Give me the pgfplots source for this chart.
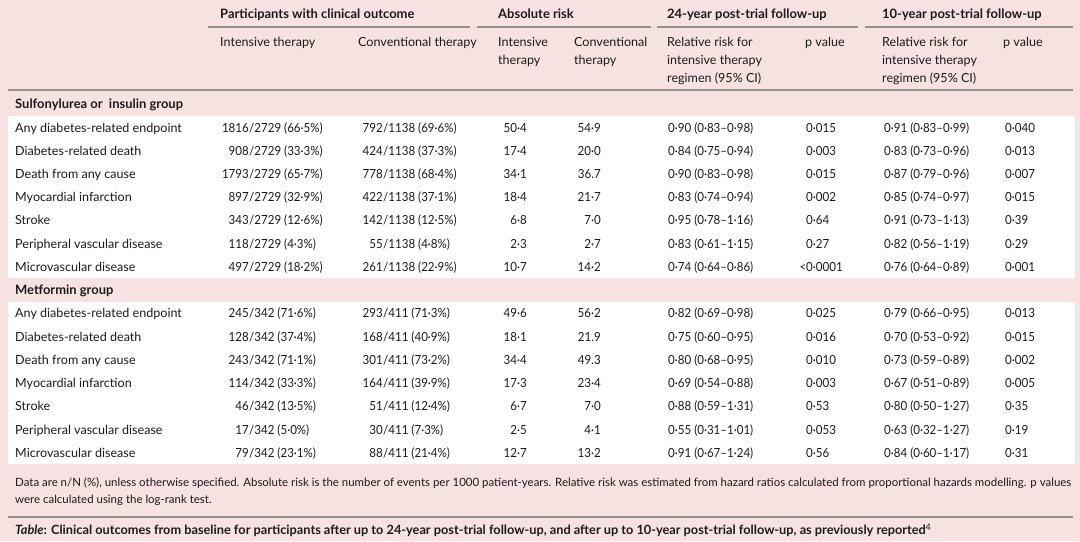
\documentclass[border=0pt]{standalone}
\usepackage{pgfplots}
\pgfplotsset{compat=1.18}
\usepackage{fontspec}
\setmainfont{Lato}
\newfontfamily\numfont[FakeStretch=0.92]{Lato}
\definecolor{bgpink}{RGB}{246,226,225}
\definecolor{rulegray}{RGB}{150,145,145}
\definecolor{txt}{RGB}{30,26,27}
\tikzset{tx/.style={inner sep=0pt,text=txt,yshift=-2.2bp}}
\newcommand{\fsz}{\fontsize{12.6}{14}\selectfont}
\newcommand{\cL}[3]{\node[tx,anchor=mid west,font=\fsz] at (axis cs:#1,#2) {#3};}
\newcommand{\nL}[3]{\node[tx,anchor=mid west,font=\numfont\fsz] at (axis cs:#1,#2) {#3};}
\newcommand{\nR}[3]{\node[tx,anchor=mid east,font=\numfont\fsz] at (axis cs:#1,#2) {#3};}
\newcommand{\pC}[4]{\nR{#1}{#2}{#3}\nL{#1}{#2}{/#4}}
\newcommand{\hB}[3]{\node[tx,anchor=mid west,font=\fontsize{13}{15}\selectfont\bfseries] at (axis cs:#1,#2) {#3};}
\newcommand{\tRow}[9]{\cL{15}{#1}{#2}\pC{249}{#1}{#3}{#4}\pC{383}{#1}{#5}{#6}\nR{527}{#1}{#7}\nR{601}{#1}{#8}\tRowB{#1}#9}
\newcommand{\tRowB}[5]{\nL{668}{#1}{#2}\nL{806}{#1}{#3}\nL{884}{#1}{#4}\nL{1005}{#1}{#5}}
\begin{document}
\begin{tikzpicture}
\begin{axis}[width=1080bp,height=541bp,scale only axis,
  xmin=0,xmax=1080,ymin=0,ymax=541,y dir=reverse,hide axis,clip=false]
\addplot[fill=bgpink,draw=none] coordinates {(0,0) (1080,0) (1080,541) (0,541)} --cycle;
\addplot[fill=white,draw=none] coordinates {(8,116) (1075,116) (1075,278) (8,278)} --cycle;
\addplot[fill=white,draw=none] coordinates {(8,302) (1075,302) (1075,464) (8,464)} --cycle;
\addplot[rulegray,line width=1.1bp] coordinates {(208,27) (470,27)};
\addplot[rulegray,line width=1.1bp] coordinates {(477,27) (651,27)};
\addplot[rulegray,line width=1.1bp] coordinates {(657,27) (858,27)};
\addplot[rulegray,line width=1.1bp] coordinates {(865,27) (1073,27)};
\addplot[rulegray,line width=1.1bp] coordinates {(8,90) (1073,90)};
\addplot[rulegray,line width=1.1bp] coordinates {(8,517) (1073,517)};
\hB{220}{14}{Participants with clinical outcome}
\hB{498}{14}{Absolute risk}
\hB{667}{14}{24-year post-trial follow-up}
\hB{882}{14}{10-year post-trial follow-up}
\cL{220}{42}{Intensive therapy}
\cL{358}{42}{Conventional therapy}
\cL{498}{42}{Intensive}\cL{498}{60}{therapy}
\cL{574}{42}{Conventional}\cL{574}{60}{therapy}
\cL{667}{42}{Relative risk for}\cL{667}{60}{intensive therapy}\cL{667}{78}{regimen (95\% CI)}
\cL{805}{42}{p value}
\cL{882}{42}{Relative risk for}\cL{882}{60}{intensive therapy}\cL{882}{78}{regimen (95\% CI)}
\cL{1003}{42}{p value}
\hB{15}{104}{Sulfonylurea or\ \ insulin group}
\tRow{128}{Any diabetes-related endpoint}{1816}{2729 (66·5\%)}{792}{1138 (69·6\%)}{50·4}{54·9}{{0·90 (0·83–0·98)}{0·015}{0·91 (0·83–0·99)}{0·040}}
\tRow{151}{Diabetes-related death}{908}{2729 (33·3\%)}{424}{1138 (37·3\%)}{17·4}{20·0}{{0·84 (0·75–0·94)}{0·003}{0·83 (0·73–0·96)}{0·013}}
\tRow{174}{Death from any cause}{1793}{2729 (65·7\%)}{778}{1138 (68·4\%)}{34·1}{36.7}{{0·90 (0·83–0·98)}{0·015}{0·87 (0·79–0·96)}{0·007}}
\tRow{197}{Myocardial infarction}{897}{2729 (32·9\%)}{422}{1138 (37·1\%)}{18·4}{21·7}{{0·83 (0·74–0·94)}{0·002}{0·85 (0·74–0·97)}{0·015}}
\tRow{220}{Stroke}{343}{2729 (12·6\%)}{142}{1138 (12·5\%)}{6·8}{7·0}{{0·95 (0·78–1·16)}{0·64}{0·91 (0·73–1·13)}{0·39}}
\tRow{244}{Peripheral vascular disease}{118}{2729 (4·3\%)}{55}{1138 (4·8\%)}{2·3}{2·7}{{0·83 (0·61–1·15)}{0·27}{0·82 (0·56–1·19)}{0·29}}
\tRow{267}{Microvascular disease}{497}{2729 (18·2\%)}{261}{1138 (22·9\%)}{10·7}{14·2}{{0·74 (0·64–0·86)}{\llap{<}0·0001}{0·76 (0·64–0·89)}{0·001}}
\hB{15}{290}{Metformin group}
\tRow{313}{Any diabetes-related endpoint}{245}{342 (71·6\%)}{293}{411 (71·3\%)}{49·6}{56·2}{{0·82 (0·69–0·98)}{0·025}{0·79 (0·66–0·95)}{0·013}}
\tRow{337}{Diabetes-related death}{128}{342 (37·4\%)}{168}{411 (40·9\%)}{18·1}{21.9}{{0·75 (0·60–0·95)}{0·016}{0·70 (0·53–0·92)}{0·015}}
\tRow{360}{Death from any cause}{243}{342 (71·1\%)}{301}{411 (73·2\%)}{34·4}{49.3}{{0·80 (0·68–0·95)}{0·010}{0·73 (0·59–0·89)}{0·002}}
\tRow{383}{Myocardial infarction}{114}{342 (33·3\%)}{164}{411 (39·9\%)}{17·3}{23·4}{{0·69 (0·54–0·88)}{0·003}{0·67 (0·51–0·89)}{0·005}}
\tRow{406}{Stroke}{46}{342 (13·5\%)}{51}{411 (12·4\%)}{6·7}{7·0}{{0·88 (0·59–1·31)}{0·53}{0·80 (0·50–1·27)}{0·35}}
\tRow{430}{Peripheral vascular disease}{17}{342 (5·0\%)}{30}{411 (7·3\%)}{2·5}{4·1}{{0·55 (0·31–1·01)}{0·053}{0·63 (0·32–1·27)}{0·19}}
\tRow{453}{Microvascular disease}{79}{342 (23·1\%)}{88}{411 (21·4\%)}{12·7}{13·2}{{0·91 (0·67–1·24)}{0·56}{0·84 (0·60–1·17)}{0·31}}
\node[tx,anchor=mid west,font=\fontsize{11.5}{13}\selectfont] at (axis cs:15,482) {Data are n/N (\%), unless otherwise specified. Absolute risk is the number of events per 1000 patient-years. Relative risk was estimated from hazard ratios calculated from proportional hazards modelling. p values};
\node[tx,anchor=mid west,font=\fontsize{11.5}{13}\selectfont] at (axis cs:15,499) {were calculated using the log-rank test.};
\node[tx,anchor=mid west,font=\fontsize{12.8}{14}\selectfont\bfseries] at (axis cs:15,530) {\textit{Table}: Clinical outcomes from baseline for participants after up to 24-year post-trial follow-up, and after up to 10-year post-trial follow-up, as previously reported\textsuperscript{\mdseries 4}};
\end{axis}
\end{tikzpicture}
\end{document}
